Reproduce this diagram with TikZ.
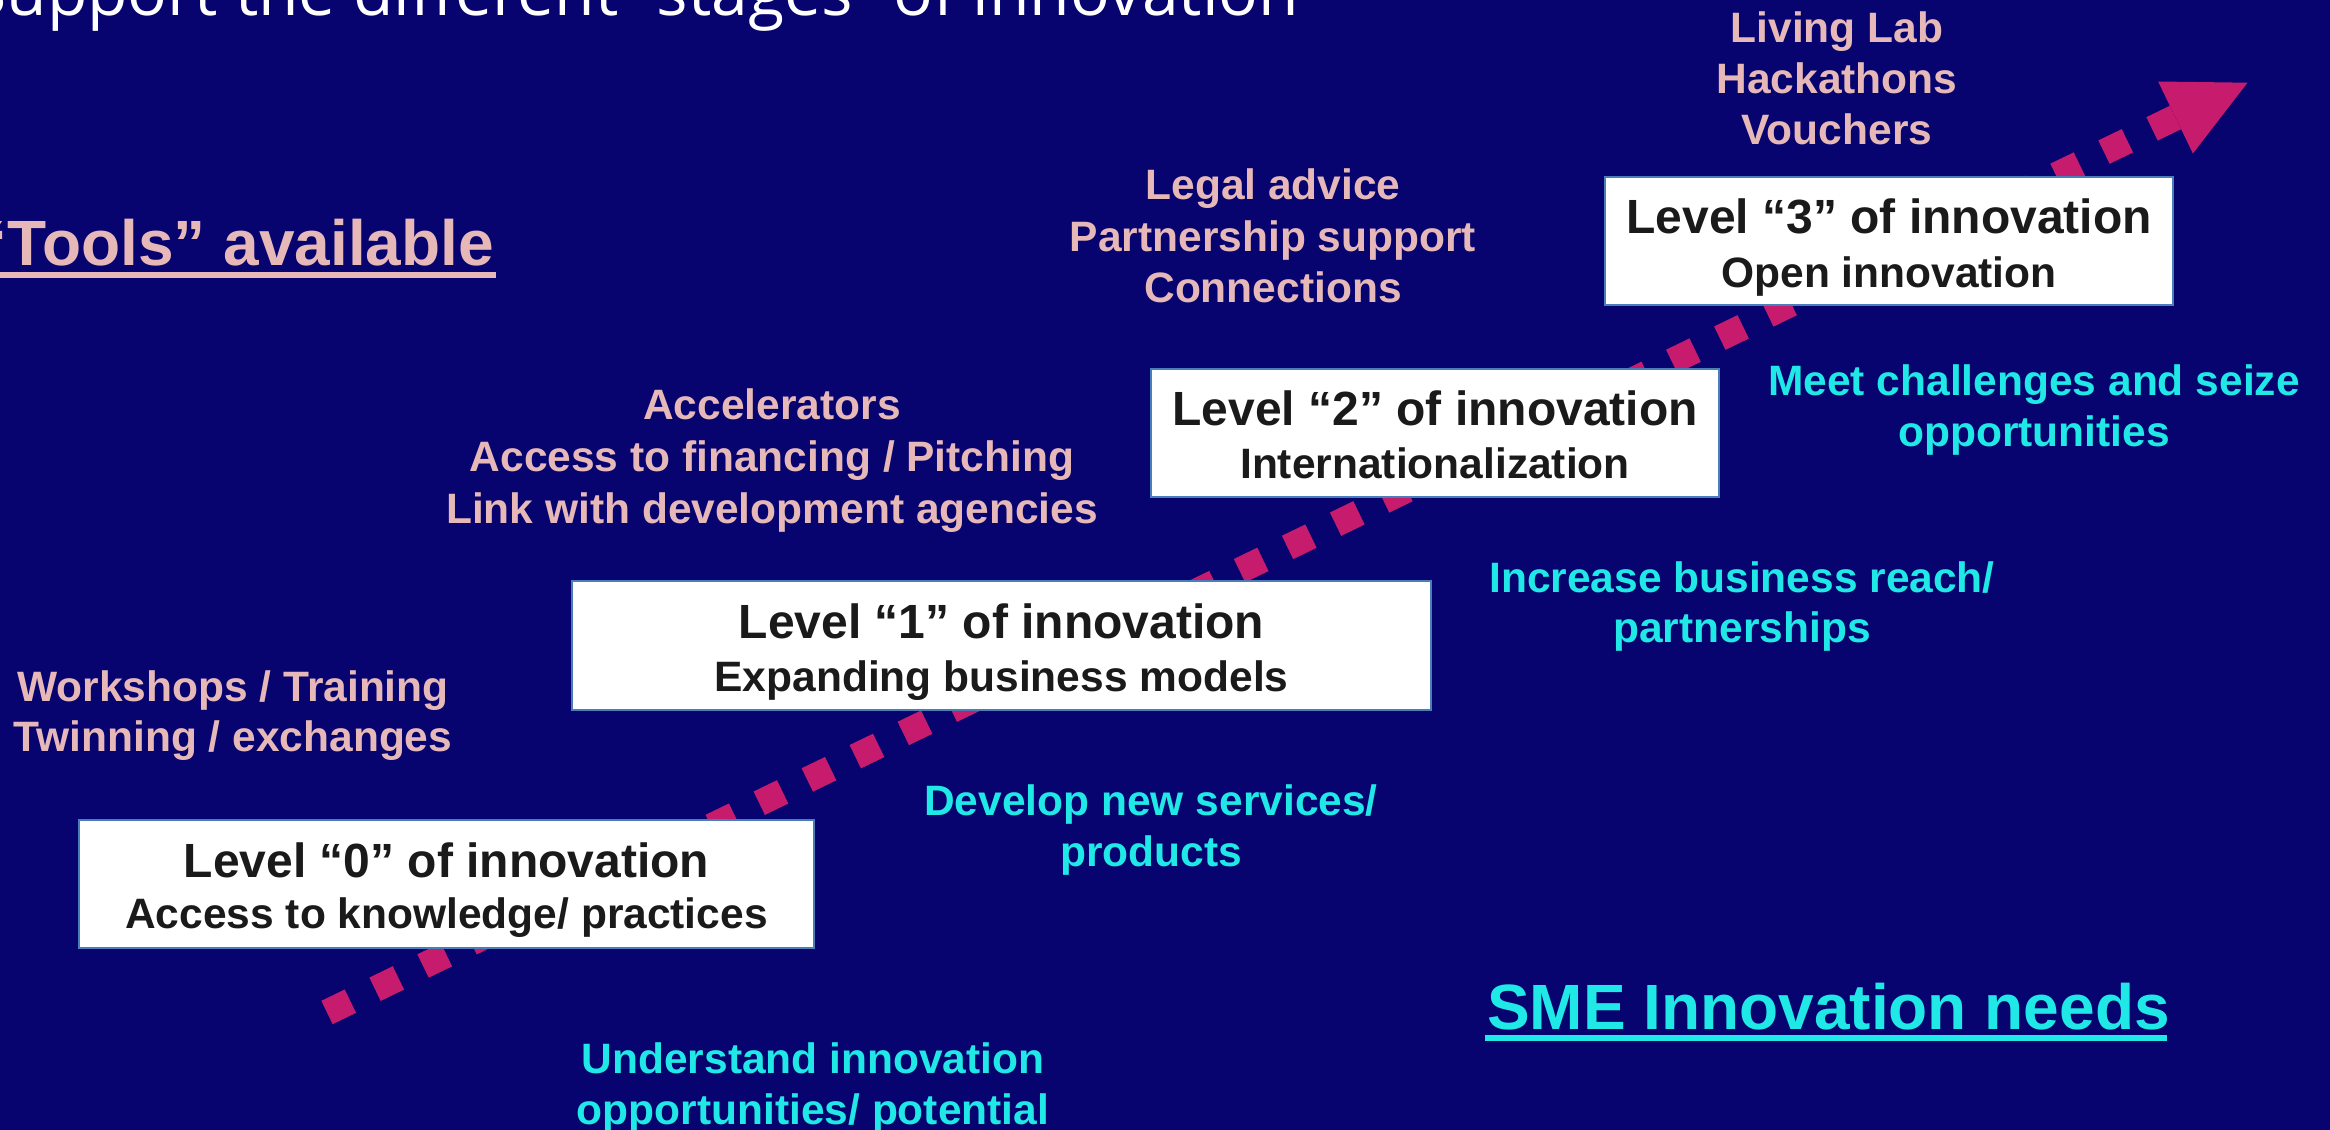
\documentclass[tikz,border=0pt]{standalone}
\usepackage{fontspec}
\setmainfont{Liberation Sans}
\newfontfamily\titlefont{Open Sans}
\definecolor{bg}{HTML}{07036F}
\definecolor{pinktxt}{HTML}{E6B9B8}
\definecolor{cyantxt}{HTML}{20E8E6}
\definecolor{arrowc}{HTML}{C71C6E}
\definecolor{boxborder}{HTML}{4A7EBB}
\definecolor{boxtxt}{HTML}{1A1A1A}
\begin{document}
\begin{tikzpicture}[x=1pt,y=-1pt,
  every node/.style={inner sep=0pt, outer sep=0pt},
  lvlbox/.style={draw=boxborder, line width=2.5pt, fill=white},
  bigline/.style={font=\bfseries\fontsize{48}{52}\selectfont, text=boxtxt, anchor=base},
  subline/.style={font=\bfseries\fontsize{42.5}{51}\selectfont, text=boxtxt, anchor=base},
  tool/.style={font=\bfseries\fontsize{42.5}{51}\selectfont, text=pinktxt, anchor=base},
  need/.style={font=\bfseries\fontsize{42.5}{51}\selectfont, text=cyantxt, anchor=base},
  heading/.style={font=\bfseries\fontsize{64}{70}\selectfont}]
\path[use as bounding box, clip] (0,0) rectangle (2330,1130);
\fill[bg] (0,0) rectangle (2330,1130);

% title (cut at top)
\node[font=\titlefont\fontsize{66}{70}\selectfont, text=white, anchor=base east] (title) at (1299,15) {Support the different “stages” of innovation};

% arrow
\coordinate (a0) at (327,1012.5);
\coordinate (a1) at (2175.5,117.5);
\coordinate (tip) at (2247.5,82.7);
\coordinate (hl) at (2158.1,81.5);
\coordinate (hr) at (2192.9,153.5);
\draw[arrowc, line width=26pt, dash pattern=on 26pt off 27.36pt] (a0) -- (a1);
\fill[arrowc] (hl) -- (tip) -- (hr) -- cycle;

% headings
\node[heading, text=pinktxt, anchor=base east] (tools) at (494,265) {“Tools” available};
\fill[pinktxt] (0,272) rectangle (496,278);
\node[heading, text=cyantxt, anchor=base west] (sme) at (1487,1029) {SME Innovation needs};
\fill[cyantxt] (1485,1035) rectangle (2167,1041);

% level boxes
\node[lvlbox, minimum width=735pt, minimum height=128pt] (L0) at (446.5,884) {};
\node[bigline] (L0a) at (446.5,877) {Level “0” of innovation};
\node[subline] (L0b) at (446.5,928) {Access to knowledge/ practices};

\node[lvlbox, minimum width=859pt, minimum height=129pt] (L1) at (1001.5,645.5) {};
\node[bigline] (L1a) at (1001.5,638) {Level “1” of innovation};
\node[subline] (L1b) at (1001.5,691) {Expanding business models};

\node[lvlbox, minimum width=568pt, minimum height=128pt] (L2) at (1435,433) {};
\node[bigline] (L2a) at (1435,425) {Level “2” of innovation};
\node[subline] (L2b) at (1435,478) {Internationalization};

\node[lvlbox, minimum width=568pt, minimum height=128pt] (L3) at (1889,241) {};
\node[bigline] (L3a) at (1889,233) {Level “3” of innovation};
\node[subline] (L3b) at (1889,287) {Open innovation};

% tools
\node[tool] (t0a) at (233,701) {Workshops / Training};
\node[tool] (t0b) at (233,751) {Twinning / exchanges};
\node[tool] (t1a) at (772,419) {Accelerators};
\node[tool] (t1b) at (772,471) {Access to financing / Pitching};
\node[tool] (t1c) at (772,523) {Link with development agencies};
\node[tool] (t2a) at (1273,199) {Legal advice};
\node[tool] (t2b) at (1273,251) {Partnership support};
\node[tool] (t2c) at (1273,302) {Connections};
\node[tool] (t3a) at (1837,42) {Living Lab};
\node[tool] (t3b) at (1837,93) {Hackathons};
\node[tool] (t3c) at (1837,144) {Vouchers};

% needs
\node[need] (n3a) at (2034,395) {Meet challenges and seize};
\node[need] (n3b) at (2034,446) {opportunities};
\node[need] (n2a) at (1742,592) {Increase business reach/};
\node[need] (n2b) at (1742,642) {partnerships};
\node[need] (n1a) at (1151,815) {Develop new services/};
\node[need] (n1b) at (1151,866) {products};
\node[need] (n0a) at (813,1073) {Understand innovation};
\node[need] (n0b) at (813,1124) {opportunities/ potential};
\end{tikzpicture}
\end{document}
